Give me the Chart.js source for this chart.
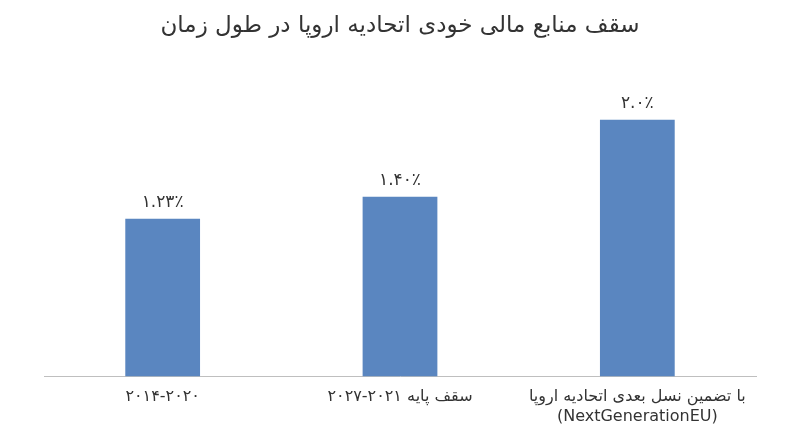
<!DOCTYPE html>
<html>
<head>
<meta charset="utf-8">
<script src="https://cdn.jsdelivr.net/npm/chart.js@4"></script>
<style>
  html, body { margin: 0; padding: 0; background: #fff; }
  #wrap { width: 800px; height: 447px; }
</style>
</head>
<body>
<div id="wrap"><canvas id="capChart"></canvas></div>
<script>
// EU own resources ceiling over time
const categories = [
    '۲۰۱۴-۲۰۲۰',
    'سقف پایه ۲۰۲۱-۲۰۲۷',
    ['با تضمین نسل بعدی اتحادیه اروپا', '(NextGenerationEU)']
];
const ceilingValues = [1.23, 1.40, 2.0];
const valueLabels = ['۱.۲۳٪', '۱.۴۰٪', '۲.۰٪'];

const FONT = "'DejaVu Sans', 'Noto Sans', sans-serif";

// draw the value above each bar
const barLabels = {
    id: 'barLabels',
    afterDatasetsDraw(chart) {
        const ctx = chart.ctx;
        const meta = chart.getDatasetMeta(0);
        ctx.save();
        ctx.font = '17px ' + FONT;
        ctx.fillStyle = '#333';
        ctx.textAlign = 'center';
        ctx.textBaseline = 'bottom';
        meta.data.forEach((bar, i) => {
            ctx.fillText(valueLabels[i], bar.x, bar.y - 8);
        });
        ctx.restore();
    }
};

new Chart(document.getElementById('capChart').getContext('2d'), {
    type: 'bar',
    data: {
        labels: categories,
        datasets: [{
            data: ceilingValues,
            backgroundColor: '#5a86c0',
            barPercentage: 0.63,
            categoryPercentage: 0.5
        }]
    },
    options: {
        responsive: true,
        maintainAspectRatio: false,
        animation: false,
        layout: { padding: { left: 44, right: 44, top: 0, bottom: 10 } },
        scales: {
            x: {
                grid: { display: false, drawTicks: false },
                border: { color: '#bfbfbf' },
                ticks: { color: '#333', font: { size: 16, family: FONT }, padding: 11 }
            },
            y: {
                display: false,
                min: 0,
                max: 2.5
            }
        },
        plugins: {
            legend: { display: false },
            tooltip: { enabled: false },
            title: {
                display: true,
                text: 'سقف منابع مالی خودی اتحادیه اروپا در طول زمان',
                color: '#333',
                font: { size: 23, family: FONT, weight: 'normal' },
                padding: { top: 12, bottom: 16 }
            }
        }
    },
    plugins: [barLabels]
});
</script>
</body>
</html>
